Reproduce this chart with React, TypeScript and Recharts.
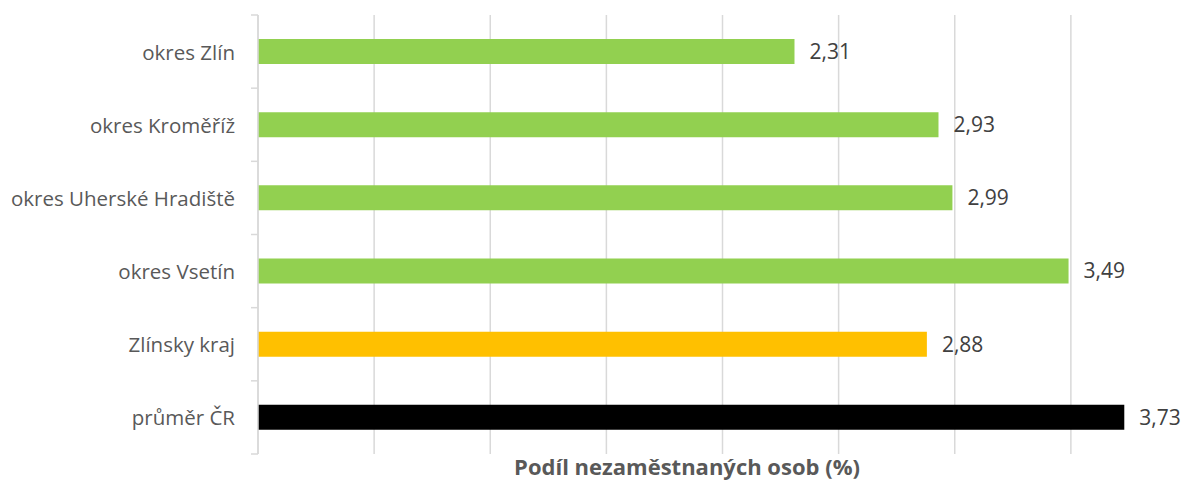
import React from "react";
import { BarChart, Bar, XAxis, YAxis, CartesianGrid, Cell, LabelList } from "recharts";

const categories = [
  "okres Zlín",
  "okres Kroměříž",
  "okres Uherské Hradiště",
  "okres Vsetín",
  "Zlínsky kraj",
  "průměr ČR",
];
const values = [2.31, 2.93, 2.99, 3.49, 2.88, 3.73];
const xTicks = [0, 0.5, 1, 1.5, 2, 2.5, 3, 3.5, 4];
const axisTitle = "Podíl nezaměstnaných osob (%)";

const barColors = ["#92d050", "#92d050", "#92d050", "#92d050", "#ffc000", "#000000"];

const data = categories.map((name, i) => ({ name, value: values[i] }));

const CHART_W = 1190;
const CHART_H = 480;
const M_TOP = 15;
const M_BOTTOM = 26;
const Y_W = 258;
const BAND = (CHART_H - M_TOP - M_BOTTOM) / categories.length;
const FONT = "'Open Sans', sans-serif";
const FS_CAT = 20.5;
const FS_VAL = 21;

const YTick = (props: any) => {
  const { y, payload, index } = props;
  const axisX = Y_W;
  return (
    <g>
      <text
        x={axisX - 23}
        y={y}
        textAnchor="end"
        dominantBaseline="central"
        fill="#595959"
        fontSize={FS_CAT}
        fontFamily={FONT}
      >
        {payload.value}
      </text>
      {index === 0 && (
        <line x1={axisX - 7} x2={axisX} y1={y - BAND / 2} y2={y - BAND / 2} stroke="#d9d9d9" strokeWidth={1.5} />
      )}
      <line x1={axisX - 7} x2={axisX} y1={y + BAND / 2} y2={y + BAND / 2} stroke="#d9d9d9" strokeWidth={1.5} />
    </g>
  );
};

const EmptyTick = () => <g />;

const fmt = (v: any) => String(v).replace(".", ",");

export default function App() {
  return (
    <div style={{ position: "absolute", left: 0, top: 0, width: 1184, height: 480, overflow: "hidden", background: "#fff" }}>
      <BarChart
        width={CHART_W}
        height={CHART_H}
        data={data}
        layout="vertical"
        margin={{ top: M_TOP, right: 3, bottom: 0, left: 0 }}
        barCategoryGap={0}
      >
        <CartesianGrid horizontal={false} vertical={true} stroke="#d9d9d9" strokeWidth={1.5} />
        <XAxis
          type="number"
          domain={[0, 4]}
          ticks={xTicks}
          tick={<EmptyTick />}
          tickLine={false}
          axisLine={false}
          height={M_BOTTOM}
        />
        <YAxis
          type="category"
          dataKey="name"
          width={Y_W}
          axisLine={{ stroke: "#d9d9d9", strokeWidth: 1.5 }}
          tickLine={false}
          tick={<YTick />}
          interval={0}
        />
        <Bar dataKey="value" barSize={25} isAnimationActive={false}>
          {data.map((d, i) => (
            <Cell key={d.name} fill={barColors[i]} />
          ))}
          <LabelList
            dataKey="value"
            position="right"
            offset={15}
            formatter={fmt}
            fill="#404040"
            fontSize={FS_VAL}
            fontFamily={FONT}
          />
        </Bar>
        <text
          x={687}
          y={475}
          textAnchor="middle"
          fill="#595959"
          fontSize={22}
          fontWeight="bold"
          fontFamily={FONT}
        >
          {axisTitle}
        </text>
      </BarChart>
    </div>
  );
}
